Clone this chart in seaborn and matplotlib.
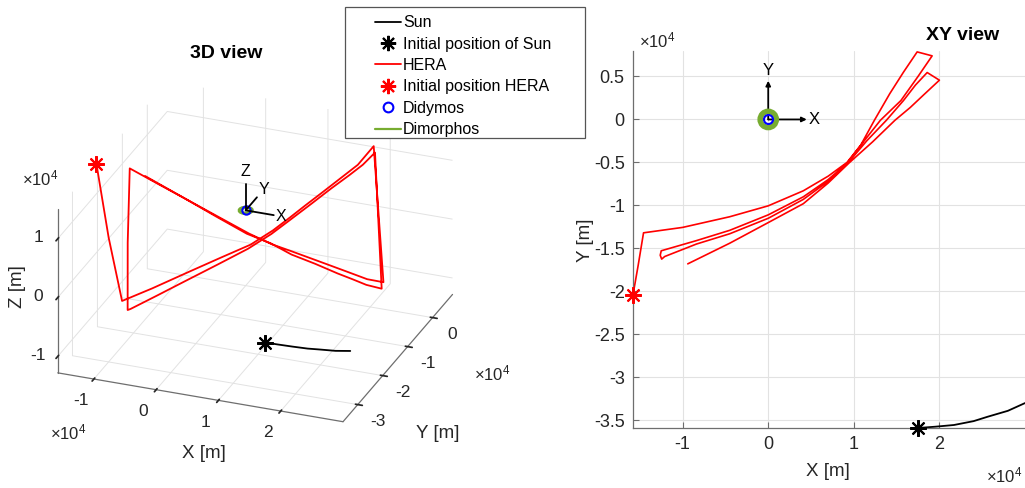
import numpy as np
import matplotlib
matplotlib.use("Agg")
import matplotlib.pyplot as plt
import seaborn as sns
from matplotlib.lines import Line2D
from matplotlib.patches import Circle, Rectangle
from matplotlib.transforms import ScaledTranslation
import mpl_toolkits.mplot3d.art3d as art3d
from matplotlib.ticker import FuncFormatter, FixedLocator

# ---------------- data (metres) ----------------
hera_x = [-15800, -15200, -14570,
          -10000, -4500, 0, 4100, 7000, 9200, 10800, 12400, 14200, 15800, 17400,
          19150, 17500, 15500, 13100, 11200, 9200, 7000, 4100, 0, -4500, -8400, -12500,
          -12620, -12450, -12100,
          -8400, -4500, 0, 4100, 7000, 9200, 11500, 13800, 15800, 17200, 18570,
          20000, 18200, 16600, 14800, 12200, 9400, 7000, 4100, 0, -4500, -9400]
hera_y = [-20400, -17000, -13190,
          -12560, -11320, -10050, -8300, -6600, -5000, -3000, -100, 3000, 5500, 7860,
          7400, 5000, 2200, -100, -2500, -5100, -7000, -9000, -11100, -12900, -14100, -15280,
          -15800, -16250, -15950,
          -14500, -13300, -11500, -9300, -7200, -5200, -2500, -100, 2200, 4000, 5460,
          4570, 2900, 1400, -100, -2600, -5100, -7400, -9800, -12000, -14400, -16800]
hera_z = [15100, 1000, -11550,
          -8900, -5650, -3100, -1000, 1100, 3000, 4300, 5400, 6700, 7900, 10200,
          -12400, -11000, -8750, -6750, -4800, -2700, -1050, 1250, 4400, 7500, 9900, 12400,
          0, -11200, -11100,
          -8850, -6350, -3600, -1200, 800, 2600, 4400, 6300, 7800, 8900, 10500,
          -11950, -10800, -9400, -8000, -5600, -3300, -700, 1600, 4900, 8600, 12400]

sun_x = [17500, 19500, 21700, 24000, 25600, 28000, 30000]
sun_y = [-35900, -35750, -35550, -35100, -34600, -33900, -33000]
sun_z = [-1600, -1650, -1700, -1850, -1950, -2100, -2200]

didymos_xyz = (0, 0, 0)
dimorphos_radius = 940.0
triad_length = 4500.0

x_limits = (-15800, 30000)
y_limits = (-35900, 8000)
z_limits = (-12800, 15100)
x_ticks = [-10000, 0, 10000, 20000]
y_ticks_xy = [-35000, -30000, -25000, -20000, -15000, -10000, -5000, 0, 5000]
y_ticks_3d = [-30000, -20000, -10000, 0]
z_ticks = [-10000, 0, 10000]

legend_labels = ["Sun", "Initial position of Sun", "HERA",
                 "Initial position HERA", "Didymos", "Dimorphos"]

# ---------------- style ----------------
sns.set_theme(style="whitegrid")
plt.rcParams["font.family"] = ["Liberation Sans", "DejaVu Sans"]
plt.rcParams["axes.unicode_minus"] = False
plt.rcParams["mathtext.fontset"] = "custom"
plt.rcParams["mathtext.rm"] = "Liberation Sans"
plt.rcParams["grid.color"] = "#e2e2e2"
plt.rcParams["grid.linewidth"] = 0.7

TXT = "#262626"
AX = "#6e6e6e"
RED = "#ff0000"
GREEN = "#77ac30"
STAR = (8, 2, 0)
fmt = FuncFormatter(lambda v, p: f"{v/1e4:g}")

W, H = 1025, 488
fig = plt.figure(figsize=(W / 100, H / 100), dpi=100)


def px(x, y):
    return x / W, 1 - y / H


def shift_ticklabels(axis, dx, dy):
    """Shift the 3D tick labels of an axis by (dx, dy) pixels (dy downwards)."""
    orig = axis.get_major_ticks

    def patched(numticks=None):
        ticks = orig(numticks)
        off = ScaledTranslation(dx / 100, -dy / 100, fig.dpi_scale_trans)
        for t in ticks:
            t.label1.set_transform(axis.axes.transData + off)
        return ticks

    axis.get_major_ticks = patched


# ---------------- 3D view ----------------
ax3 = fig.add_axes([-0.012, 0.012, 0.51, 0.92], projection="3d")
ax3.set_proj_type("ortho")
ax3.view_init(elev=26.5, azim=-69)
ax3.set_box_aspect((1, 1, 0.6), zoom=1.015)

ax3.plot(sun_x, sun_y, sun_z, color="black", lw=1.3)
ax3.plot([sun_x[0]], [sun_y[0]], [sun_z[0]], marker=STAR, color="black",
         ms=12, mew=1.5, ls="none")
ax3.plot(hera_x, hera_y, hera_z, color=RED, lw=1.3)
ax3.plot([hera_x[0]], [hera_y[0]], [hera_z[0]], marker=STAR, color=RED,
         ms=12, mew=1.5, ls="none")
ring3 = Circle((0, 0), dimorphos_radius, fill=False, ec=GREEN, lw=2.5)
ax3.add_patch(ring3)
art3d.pathpatch_2d_to_3d(ring3, z=0, zdir="z")
ax3.plot([didymos_xyz[0]], [didymos_xyz[1]], [didymos_xyz[2]], marker="o",
         mfc="none", mec="blue", ms=6, mew=1.5, ls="none")
ax3.plot([0, triad_length], [0, 0], [0, 0], color="black", lw=1.3)
ax3.plot([0, 0], [0, triad_length], [0, 0], color="black", lw=1.3)
ax3.plot([0, 0], [0, 0], [0, triad_length], color="black", lw=1.3)
ax3.text(1.27 * triad_length, 0, 0, "X", fontsize=11.5, ha="center", va="center", color="black")
ax3.text(0, 1.6 * triad_length, 0, "Y", fontsize=11.5, ha="center", va="center", color="black")
ax3.text(0, 0, 1.45 * triad_length, "Z", fontsize=11.5, ha="center", va="center", color="black")

ax3.set_xlim(*x_limits)
ax3.set_ylim(*y_limits)
ax3.set_zlim(*z_limits)
ax3.xaxis.set_major_locator(FixedLocator(x_ticks))
ax3.yaxis.set_major_locator(FixedLocator(y_ticks_3d))
ax3.zaxis.set_major_locator(FixedLocator(z_ticks))
for a in (ax3.xaxis, ax3.yaxis, ax3.zaxis):
    a.set_major_formatter(fmt)
    a.set_pane_color((1, 1, 1, 0))
    a.pane.set_edgecolor("#e2e2e2")
    a.line.set_color(AX)
    a.line.set_linewidth(0.9)
ax3.zaxis.set_ticks_position("lower")
ax3.tick_params(labelsize=12.5, colors=TXT, pad=2)
ax3.set_facecolor((1, 1, 1, 0))
shift_ticklabels(ax3.xaxis, -6, -3)
shift_ticklabels(ax3.yaxis, 3, -3)
shift_ticklabels(ax3.zaxis, 4, -13)

fig.text(*px(226, 53), "3D view", ha="center", va="center", fontsize=14,
         fontweight="bold", color="black")
fig.text(*px(204, 453), "X [m]", ha="center", va="center", fontsize=13.5, color=TXT)
fig.text(*px(438, 434), "Y [m]", ha="center", va="center", fontsize=13.5, color=TXT)
fig.text(*px(17, 287), "Z [m]", ha="center", va="center", fontsize=13.5,
         color=TXT, rotation=90)
for (xx, yy) in [(40, 178), (68, 432), (492, 373)]:
    fig.text(*px(xx, yy), r"$\times\mathregular{10^{4}}$", ha="center",
             va="center", fontsize=12, color=TXT)

# ---------------- XY view ----------------
ax2 = fig.add_axes([633 / W, (H - 428) / H, 392 / W, 377.3 / H])
sns.lineplot(x=np.array(sun_x), y=np.array(sun_y), sort=False, estimator=None,
             color="black", lw=1.3, ax=ax2)
sns.lineplot(x=np.array(hera_x), y=np.array(hera_y), sort=False, estimator=None,
             color=RED, lw=1.2, ax=ax2)
ax2.plot(sun_x[0], sun_y[0], marker=STAR, color="black", ms=12, mew=1.5,
         clip_on=False, zorder=5)
ax2.plot(hera_x[0], hera_y[0], marker=STAR, color=RED, ms=12, mew=1.5,
         clip_on=False, zorder=5)
ax2.add_patch(Circle((0, 0), dimorphos_radius, fill=False, ec=GREEN, lw=4, zorder=4))
ax2.plot(0, 0, marker="o", mfc="none", mec="blue", ms=6.5, mew=1.5, zorder=5)
ax2.annotate("", xy=(triad_length, 0), xytext=(0, 0),
             arrowprops=dict(arrowstyle="-|>", color="black", lw=1.3,
                             mutation_scale=7, shrinkA=0, shrinkB=0))
ax2.annotate("", xy=(0, triad_length), xytext=(0, 0),
             arrowprops=dict(arrowstyle="-|>", color="black", lw=1.3,
                             mutation_scale=7, shrinkA=0, shrinkB=0))
ax2.text(1.2 * triad_length, 0, "X", fontsize=12, ha="center", va="center", color="black")
ax2.text(0, 1.27 * triad_length, "Y", fontsize=12, ha="center", va="center", color="black")

ax2.set_xlim(*x_limits)
ax2.set_ylim(*y_limits)
ax2.xaxis.set_major_locator(FixedLocator(x_ticks))
ax2.yaxis.set_major_locator(FixedLocator(y_ticks_xy))
ax2.xaxis.set_major_formatter(fmt)
ax2.yaxis.set_major_formatter(fmt)
ax2.grid(True, color="#e2e2e2", lw=0.8)
ax2.set_facecolor("white")
for s in ("top", "right"):
    ax2.spines[s].set_visible(False)
for s in ("left", "bottom"):
    ax2.spines[s].set_color(AX)
    ax2.spines[s].set_linewidth(0.9)
ax2.tick_params(axis="both", direction="in", length=4, width=0.8, color=AX,
                labelsize=13, labelcolor=TXT, left=True, bottom=True, pad=6)
ax2.set_xlabel("")
ax2.set_ylabel("")
fig.text(*px(828, 472), "X [m]", ha="center", va="center", fontsize=13.5, color=TXT)
fig.text(*px(585, 240), "Y [m]", ha="center", va="center", fontsize=13.5,
         color=TXT, rotation=90)
fig.text(*px(963, 35), "XY view", ha="center", va="center", fontsize=14,
         fontweight="bold", color="black")
fig.text(*px(657, 40), r"$\times\mathregular{10^{4}}$", ha="center", va="center",
         fontsize=12, color=TXT)
fig.text(*px(1004, 475), r"$\times\mathregular{10^{4}}$", ha="center", va="center",
         fontsize=12, color=TXT)

# ---------------- legend ----------------
handles = [
    Line2D([], [], color="black", lw=1.3),
    Line2D([], [], color="black", marker=STAR, ms=11, mew=1.5, ls="none"),
    Line2D([], [], color=RED, lw=1.3),
    Line2D([], [], color=RED, marker=STAR, ms=11, mew=1.5, ls="none"),
    Line2D([], [], color="blue", marker="o", mfc="none", ms=7, mew=1.5, ls="none"),
    Line2D([], [], color=GREEN, lw=1.6),
]
fig.patches.append(Rectangle(px(345, 138), 240 / W, 131 / H, transform=fig.transFigure,
                             fill=True, fc="white", ec="#555555", lw=0.9, zorder=10))
leg = fig.legend(handles, legend_labels, loc="upper left",
                 bbox_to_anchor=px(372, 12), frameon=False, fontsize=11.5,
                 handlelength=1.6, handletextpad=0.15, labelspacing=0.40,
                 borderpad=0.2, borderaxespad=0)
leg.set_zorder(11)
for t in leg.get_texts():
    t.set_color("black")

fig.savefig("out.png", dpi=100)
